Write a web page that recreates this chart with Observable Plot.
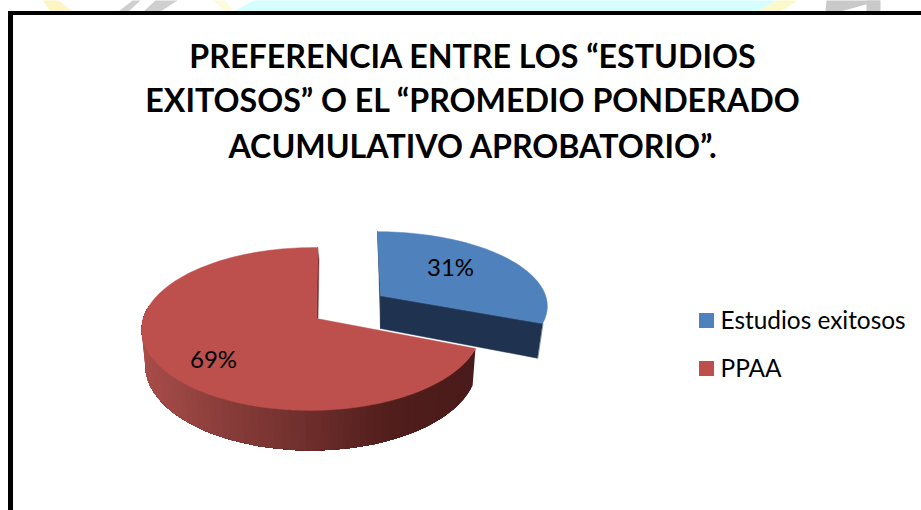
<!DOCTYPE html>
<html><head><meta charset="utf-8">
<script src="https://cdn.jsdelivr.net/npm/d3@7"></script>
<script src="https://cdn.jsdelivr.net/npm/@observablehq/plot@0.6"></script>
<style>html,body{margin:0;padding:0;background:#fff}svg{display:block}</style>
</head><body><div id="chart"></div>
<script>
const categories = ["Estudios exitosos", "PPAA"];
const values = [31, 69];
const labels = ["31%", "69%"];
const topColors = ["#4f81bd", "#bd504d"];
const titleLines = ["PREFERENCIA ENTRE LOS “ESTUDIOS", "EXITOSOS” O EL “PROMEDIO PONDERADO", "ACUMULATIVO APROBATORIO”."];

// projected pie: perspective camera parameters per slice
const views = [
  {cx: 380, cy: 295, a: 72, b: 165, k: .129, j: 0, skew: -3, depth: 33, lowScale: .97, lowSkew: -2},
  {cx: 316, cy: 318, a: 80, b: 168, k: .129, j: -.03, skew: 1, depth: 35, lowScale: .98, lowSkew: 0}
];
const total = d3.sum(values);
let acc = 0;
const arcs = values.map(v => { const s = acc; acc += v; return [s / total * 2 * Math.PI, acc / total * 2 * Math.PI]; });

function project(view, t, r, low) {
  const u = r * Math.sin(t), v = -r * Math.cos(t);
  const den = 1 - view.k * v - view.j * u;
  let x = view.b * u / den, y = view.a * v / den;
  x += (low ? view.lowSkew : view.skew) * (-v);
  if (low) { x *= view.lowScale; y += view.depth + 5 * v; }
  return {x: view.cx + x, y: view.cy + y};
}
const ramp = d3.scaleLinear().domain([0, .25, .5, .75, 1]).range(["#a84d4a", "#8a3d3a", "#6f2f2c", "#511e1c", "#491b1a"]);
const arcAngles = (a, b, n) => d3.range(n + 1).map(i => a + (b - a) * i / n);
let pid = 0;
function poly(target, pts, color) { const id = pid++; pts.forEach(p => target.push({...p, id, color})); }

// red rim: painted from the far right to the left, each band overlapping what remains, so no seams
const rimPolys = [], facePolys = [];
const vr = views[1], [r0, r1] = arcs[1];
const rimEnd = 3 * Math.PI / 2 + .15, steps = 70;
const rimAng = arcAngles(r0, rimEnd, steps);
const xs = rimAng.map(t => project(vr, t, 1, false).x);
const xMin = d3.min(xs), xMax = d3.max(xs);
for (let i = 0; i < steps; i++) {
  const rest = rimAng.slice(i);
  const f = (xs[i] - xMin) / (xMax - xMin);
  poly(rimPolys, [...rest.map(t => project(vr, t, 1, false)), ...rest.slice().reverse().map(t => project(vr, t, 1, true))], ramp(f));
}
// red notch sliver, red top face
const a0 = project(vr, 0, 0, false), a1 = project(vr, 0, 1, false);
poly(facePolys, [a1, a0, {x: a0.x + 1.5, y: a0.y}, {x: a1.x + 1.5, y: a1.y + 12}], "#7a3331");
poly(facePolys, [project(vr, r0, 0, false), ...arcAngles(r0, r1, 160).map(t => project(vr, t, 1, false))], topColors[1]);

const vb = views[0], [b0, b1] = arcs[0];
poly(facePolys, [project(vb, b0, 1, false), project(vb, b0, 0, false), project(vb, b0, 0, true), project(vb, b0, 1, true)], "#1f3350");
poly(facePolys, [project(vb, b1, 1, false), project(vb, b1, 0, false), project(vb, b1, 0, true), project(vb, b1, 1, true)], "#1f3350");
poly(facePolys, [project(vb, b0, 0, false), ...arcAngles(b0, b1, 60).map(t => project(vb, t, 1, false))], topColors[0]);

// pieces of the background poster visible above the frame
const posterColors = ["#fdf6c4", "#cfcfcf", "#cfcfcf", "#fefbdc", "#d5ffff", "#fdf8c8", "#c9c9c9", "#c9c9c9"];
const posterTopL = [42, 132, 155, 213, 253, 777, 826, 866];
const posterTopR = [58, 140, 177, 225, 777, 797, 880, 880];
const posterBotL = [50, 118, 143, 225, 233, 757, 825, 866];
const posterBotR = [72, 128, 160, 233, 757, 780, 840, 880];
const posterPts = posterColors.flatMap((color, i) => [
  {x: posterTopL[i], y: 0, id: i, color}, {x: posterTopR[i], y: 0, id: i, color},
  {x: posterBotR[i], y: 11, id: i, color}, {x: posterBotL[i], y: 11, id: i, color}
]);

const frameX1 = [8, 8], frameX2 = [13, 921], frameY1 = [11, 11], frameY2 = [510, 15];
const frame = frameX1.map((x1, i) => ({x1, x2: frameX2[i], y1: frameY1[i], y2: frameY2[i]}));

const swatchY1 = [313, 361], swatchY2 = [328, 376], legendY = [321, 369], labelX = [450, 213], labelY = [268, 360];
const titleY = [57, 101, 147];
const legend = categories.map((c, i) => ({c, color: topColors[i], y1: swatchY1[i], y2: swatchY2[i], mid: legendY[i]}));

const font = "Lato, Carlito, sans-serif";
const plot = Plot.plot({
  width: 921, height: 510, margin: 0,
  x: {domain: [0, 921], axis: null},
  y: {domain: [510, 0], axis: null},
  style: {background: "#fff", fontFamily: font},
  marks: [
    Plot.line(posterPts, {x: "x", y: "y", z: "id", fill: "color", stroke: "none", curve: "linear-closed"}),
    Plot.rect(frame, {x1: "x1", x2: "x2", y1: "y1", y2: "y2", fill: "#000"}),
    Plot.line(rimPolys, {x: "x", y: "y", z: "id", fill: "color", stroke: "none", curve: "linear-closed"}),
    Plot.line(facePolys, {x: "x", y: "y", z: "id", fill: "color", stroke: "color", strokeWidth: .5, curve: "linear-closed"}),
    Plot.text(titleLines, {x: 472, y: (d, i) => titleY[i], text: d => d, fontSize: 32.2, fontWeight: 700, fill: "#000", textAnchor: "middle"}),
    Plot.text(labels, {x: (d, i) => labelX[i], y: (d, i) => labelY[i], text: d => d, fontSize: 24, fill: "#000", textAnchor: "middle"}),
    Plot.rect(legend, {x1: 699, x2: 714, y1: "y1", y2: "y2", fill: "color"}),
    Plot.text(legend, {x: 720, y: "mid", text: "c", fontSize: 24.4, fill: "#000", textAnchor: "start"})
  ]
});
document.getElementById("chart").append(plot);
</script></body></html>
